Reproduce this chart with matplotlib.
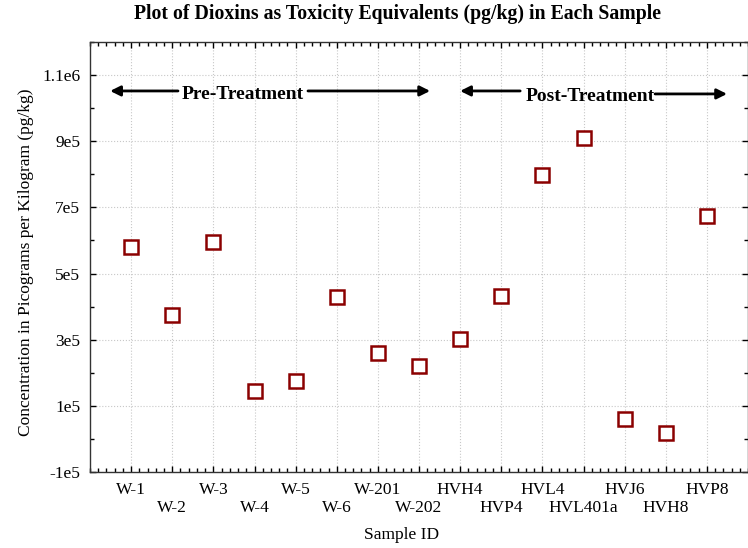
import numpy as np
import matplotlib
matplotlib.use('Agg')
import matplotlib.pyplot as plt
from matplotlib.ticker import AutoMinorLocator

plt.rcParams['font.family'] = ['Liberation Serif', 'DejaVu Serif']

samples = ['W-1', 'W-2', 'W-3', 'W-4', 'W-5', 'W-6', 'W-201', 'W-202',
           'HVH4', 'HVP4', 'HVL4', 'HVL401a', 'HVJ6', 'HVH8', 'HVP8']
teq = [5.8e5, 3.74e5, 5.95e5, 1.45e5, 1.75e5, 4.29e5, 2.6e5, 2.2e5,
       3.02e5, 4.32e5, 7.97e5, 9.09e5, 6.0e4, 1.8e4, 6.73e5]

fig = plt.figure(figsize=(7.48, 5.48), dpi=100)
ax = fig.add_axes([90/748, 1-472/548, 658/748, 430/548])

x = np.arange(1, len(samples)+1)
ax.plot(x, teq, linestyle='none', marker='s', markersize=10,
        markerfacecolor='white', markeredgecolor='#8b0000', markeredgewidth=1.8)

ax.set_xlim(0, len(samples)+1)
ax.set_ylim(-1e5, 1.2e6)
ax.set_xticks(x)
ax.set_xticklabels(samples, fontsize=12.5)
ax.xaxis.set_minor_locator(AutoMinorLocator(5))
ax.set_yticks([-1e5, 1e5, 3e5, 5e5, 7e5, 9e5, 1.1e6])
ax.set_yticklabels(['-1e5', '1e5', '3e5', '5e5', '7e5', '9e5', '1.1e6'], fontsize=12.5)
ax.yaxis.set_minor_locator(AutoMinorLocator(2))
ax.tick_params(which='both', direction='in', top=True, right=True, width=1)
ax.tick_params(which='major', length=4, pad=7)
ax.tick_params(which='minor', length=3)
# every second label drops to a lower row
for t in ax.xaxis.get_major_ticks()[1::2]:
    t.set_pad(20)
ax.grid(True, which='major', linestyle=':', color='#c8c8c8', linewidth=0.8)
for s in ax.spines.values():
    s.set_linewidth(1.0)
    s.set_color('#333333')

fig.text(397/748, 1-14/548, 'Plot of Dioxins as Toxicity Equivalents (pg/kg) in Each Sample',
         ha='center', va='center', fontsize=14.2, fontweight='bold')
ax.set_xlabel('Sample ID', fontsize=12.5)
ax.xaxis.set_label_coords(0.474, -0.128)
ax.set_ylabel('Concentration in Picograms per Kilogram (pg/kg)', fontsize=12.5)
ax.yaxis.set_label_coords(-0.085, 0.488)

# period markers
arr = dict(arrowstyle='-|>', color='black', lw=2, mutation_scale=15, shrinkA=0, shrinkB=0)
ax.annotate('', xy=(0.49, 1.052e6), xytext=(2.14, 1.052e6), arrowprops=arr)
ax.annotate('', xy=(8.27, 1.052e6), xytext=(5.3, 1.052e6), arrowprops=arr)
ax.text(3.72, 1.04e6, 'Pre-Treatment', ha='center', va='center', fontsize=14, fontweight='bold')
ax.annotate('', xy=(9.0, 1.052e6), xytext=(10.46, 1.052e6), arrowprops=arr)
ax.annotate('', xy=(15.49, 1.043e6), xytext=(13.74, 1.043e6), arrowprops=arr)
ax.text(12.16, 1.034e6, 'Post-Treatment', ha='center', va='center', fontsize=14, fontweight='bold')

fig.savefig('out.png', dpi=100)
